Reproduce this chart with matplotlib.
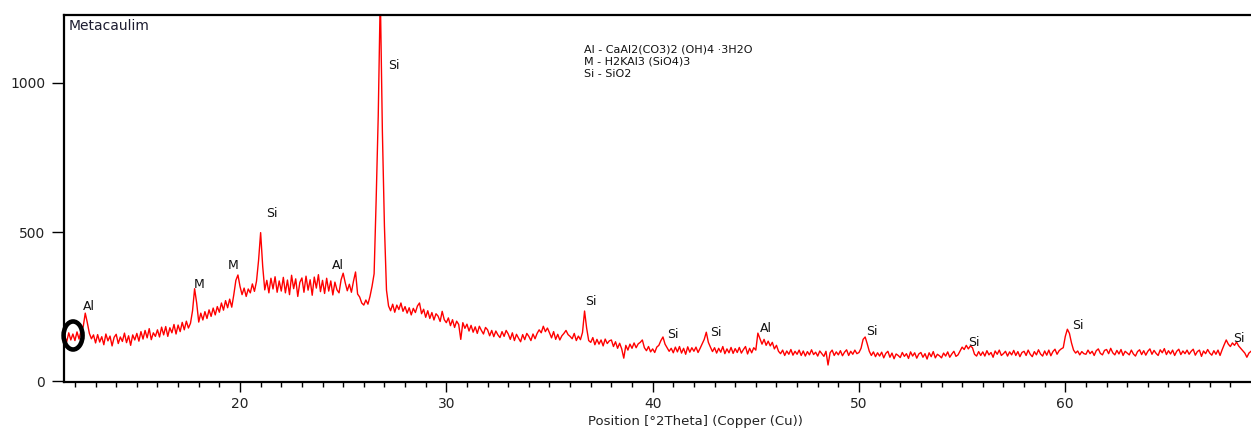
import numpy as np
import matplotlib
matplotlib.use('Agg')
import matplotlib.pyplot as plt
from matplotlib.patches import Ellipse

# scan grid (°2Theta)
theta_start = 11.5
theta_step = 0.1

# counts, one row per degree
intensity = [
    150, 132, 162, 138, 158,
    136, 165, 141, 170, 182, 228, 196, 160, 142, 155,
    128, 156, 131, 149, 122, 158, 135, 151, 118, 147,
    157, 126, 148, 133, 161, 129, 152, 120, 155, 138,
    160, 134, 166, 141, 170, 145, 176, 139, 162, 150,
    172, 148, 181, 155, 183, 150, 179, 162, 190, 158,
    188, 166, 197, 172, 201, 178, 194, 236, 310, 262,
    198, 228, 205, 233, 210, 239, 217, 245, 222, 250,
    231, 262, 238, 270, 246, 275, 248, 290, 338, 356,
    318, 290, 312, 284, 309, 296, 326, 301, 335, 405,
    498, 385, 306, 338, 296, 345, 309, 350, 298, 336,
    302, 348, 296, 339, 290, 355, 310, 343, 284, 331,
    346, 298, 352, 305, 340, 288, 349, 312, 357, 300,
    338, 294, 345, 302, 336, 289, 332, 306, 296, 340,
    362, 330, 303, 325, 298, 335, 366, 292, 282, 262,
    255, 272, 258, 284, 318, 360, 610, 890, 1300, 840,
    520, 305, 252, 236, 258, 231, 255, 240, 262, 234,
    250, 228, 246, 222, 244, 230, 252, 262, 226, 241,
    214, 236, 210, 230, 205, 226, 218, 200, 234, 206,
    196, 212, 186, 206, 180, 201, 190, 140, 196, 177,
    191, 168, 187, 164, 182, 160, 184, 170, 158, 180,
    172, 152, 170, 149, 168, 155, 146, 166, 150, 170,
    158, 140, 162, 136, 157, 144, 132, 156, 139, 160,
    150, 136, 158, 142, 160, 172, 162, 184, 166, 178,
    162, 145, 166, 140, 157, 138, 152, 160, 170, 156,
    150, 142, 160, 136, 151, 139, 163, 235, 178, 136,
    130, 146, 122, 140, 124, 138, 118, 141, 126, 135,
    138, 116, 132, 110, 127, 108, 77, 120, 104, 124,
    110, 128, 112, 125, 130, 138, 112, 102, 116, 98,
    108, 96, 114, 120, 136, 148, 124, 112, 100, 110,
    95, 114, 98, 116, 94, 110, 90, 115, 97, 112,
    100, 114, 96, 110, 125, 140, 164, 130, 114, 99,
    112, 94, 110, 97, 116, 92, 108, 95, 113, 93,
    109, 96, 113, 94, 106, 116, 91, 110, 95, 112,
    104, 161, 142, 124, 140, 120, 134, 118, 130, 108,
    120, 100, 92, 104, 86, 101, 90, 106, 87, 100,
    90, 104, 86, 101, 84, 99, 88, 105, 89, 97,
    84, 101, 92, 83, 100, 54, 95, 104, 86, 98,
    88, 102, 85, 97, 105, 86, 100, 90, 104, 92,
    96, 110, 140, 148, 125, 100, 86, 98, 82, 95,
    84, 97, 78, 93, 100, 80, 94, 75, 91, 86,
    79, 96, 83, 92, 76, 98, 84, 95, 77, 91,
    96, 80, 92, 74, 95, 82, 99, 78, 90, 85,
    78, 94, 84, 98, 80, 91, 100, 83, 88, 101,
    114, 106, 120, 108, 118, 112, 90, 84, 99, 86,
    98, 84, 102, 88, 96, 80, 101, 90, 104, 86,
    92, 100, 84, 98, 88, 103, 86, 99, 82, 96,
    100, 86, 104, 90, 82, 99, 88, 105, 91, 84,
    101, 87, 104, 85, 99, 107, 90, 102, 108, 112,
    150, 174, 160, 128, 104, 94, 101, 88, 99, 92,
    90, 104, 92, 100, 86, 102, 108, 93, 88, 103,
    106, 92, 110, 95, 88, 103, 91, 106, 86, 100,
    94, 88, 104, 91, 84, 99, 105, 89, 102, 87,
    100, 108, 90, 103, 93, 86, 105, 95, 109, 89,
    102, 91, 104, 86, 100, 107, 89, 101, 92, 104,
    90, 100, 107, 87, 99, 104, 83, 101, 92, 106,
    94, 87, 102, 90, 104, 86, 105, 122, 138, 124,
    116, 128, 120, 131, 118, 110, 102, 94, 80, 94,
    100,
]

# phase labels on the peaks
peak_labels = ['Al', 'M', 'M', 'Si', 'Al', 'Si', 'Si', 'Si', 'Si', 'Al', 'Si', 'Si', 'Si', 'Si']
peak_theta = [12.4, 17.77, 19.42, 21.26, 24.46, 27.17, 36.72, 40.7, 42.78, 45.21, 50.35, 55.29, 60.33, 68.13]
peak_counts = [238, 312, 376, 550, 376, 1047, 255, 144, 151, 164, 154, 117, 174, 131]

phase_key = ['Al - CaAl2(CO3)2 (OH)4 \u00b73H2O', 'M - H2KAl3 (SiO4)3', 'Si - SiO2']

y_ticks = [0, 500, 1000]
x_ticks = [20, 30, 40, 50, 60]

intensity = np.array(intensity, dtype=float)
two_theta = np.round(theta_start + theta_step * np.arange(len(intensity)), 2)

fig = plt.figure(figsize=(12.51, 4.30), dpi=100)
ax = fig.add_axes([64 / 1251, 48 / 430, 1 - 64 / 1251, 367 / 430])

ax.plot(two_theta, intensity, color='#ff0000', linewidth=1.0)

ax.set_xlim(11.47, 69.0)
ax.set_ylim(-3, 1228)

ax.set_xticks(x_ticks)
ax.set_xticks(np.arange(12, 69, 1), minor=True)
ax.set_yticks(y_ticks)
ax.tick_params(axis='x', which='major', direction='out', length=7, width=1, pad=4,
               labelsize=10, labelcolor='#222222')
ax.tick_params(axis='x', which='minor', direction='out', length=3.5, width=1)
ax.tick_params(axis='y', which='major', direction='out', length=8.5, width=1, pad=5,
               labelsize=10, labelcolor='#222222')

for side in ['left', 'top', 'bottom']:
    ax.spines[side].set_linewidth(1.6)
    ax.spines[side].set_color('black')
ax.spines['right'].set_visible(False)

for lab, tx, ty in zip(peak_labels, peak_theta, peak_counts):
    ax.text(tx, ty, lab, fontsize=9, color='#111111', ha='left', va='baseline')

ax.text(36.67, 1130, '\n'.join(phase_key), fontsize=8, color='#111111',
        ha='left', va='top', linespacing=1.3)

ax.text(0.004, 0.99, 'Metacaulim', transform=ax.transAxes, fontsize=10,
        color='#1c1c30', ha='left', va='top')

fig.text(695 / 1251, 8 / 430, 'Position [\u00b02Theta] (Copper (Cu))', fontsize=9.5,
         color='#222222', ha='center', va='center')

# marker circle at the start of the scan
ax.add_patch(Ellipse((11.91, 153), width=0.92, height=94, fill=False,
                     edgecolor='black', linewidth=3.3, clip_on=False, zorder=5))

fig.savefig('out.png', dpi=100)
